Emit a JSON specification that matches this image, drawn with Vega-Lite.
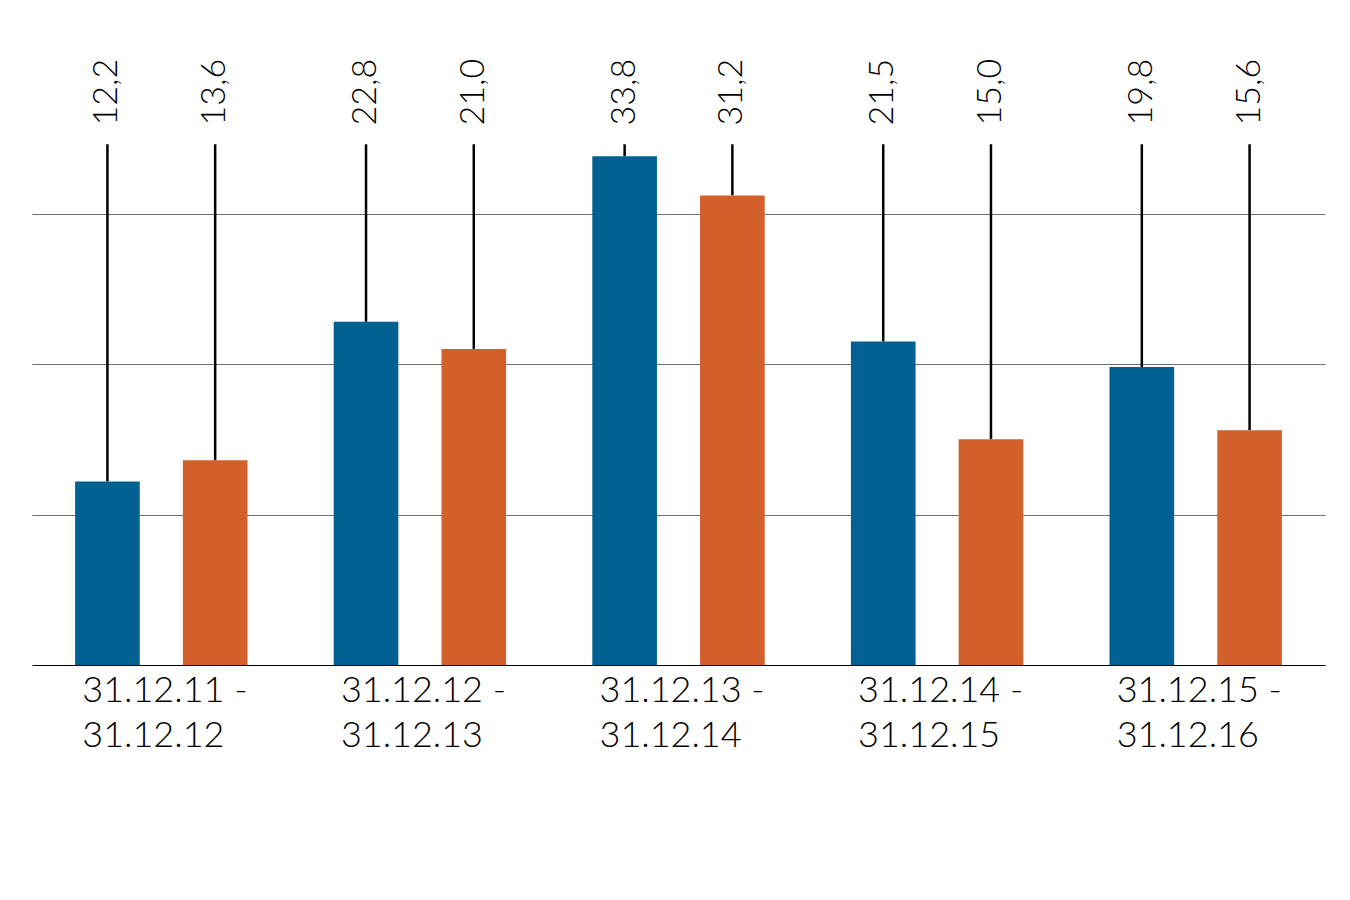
{
  "$schema": "https://vega.github.io/schema/vega-lite/v6.json",
  "width": 1293,
  "height": 602,
  "autosize": {"type": "none"},
  "padding": {"left": 32, "top": 63, "right": 25, "bottom": 235},
  "background": "white",
  "config": {
    "view": {"stroke": null},
    "locale": {"number": {"decimal": ",", "thousands": ".", "grouping": [3], "currency": ["", " €"]}},
    "font": "Lato"
  },
  "data": {
    "values": [
      {"period": "31.12.11 -|31.12.12", "series": "A", "value": 12.2},
      {"period": "31.12.11 -|31.12.12", "series": "B", "value": 13.6},
      {"period": "31.12.12 -|31.12.13", "series": "A", "value": 22.8},
      {"period": "31.12.12 -|31.12.13", "series": "B", "value": 21.0},
      {"period": "31.12.13 -|31.12.14", "series": "A", "value": 33.8},
      {"period": "31.12.13 -|31.12.14", "series": "B", "value": 31.2},
      {"period": "31.12.14 -|31.12.15", "series": "A", "value": 21.5},
      {"period": "31.12.14 -|31.12.15", "series": "B", "value": 15.0},
      {"period": "31.12.15 -|31.12.16", "series": "A", "value": 19.8},
      {"period": "31.12.15 -|31.12.16", "series": "B", "value": 15.6}
    ]
  },
  "encoding": {
    "x": {
      "field": "period", "type": "nominal", "sort": null,
      "scale": {"paddingInner": 0, "paddingOuter": 0},
      "axis": {
        "title": null, "labelAngle": 0, "ticks": false,
        "domainColor": "#000000", "domainWidth": 1.2,
        "labelExpr": "split(datum.label, '|')",
        "labelFont": "Lato", "labelFontWeight": 300, "labelFontSize": 36, "labelColor": "#000000",
        "labelAlign": "left", "labelOffset": -79, "labelBaseline": "top", "labelPadding": 8,
        "labelLineHeight": 45
      }
    },
    "xOffset": {"field": "series", "type": "nominal", "scale": {"paddingInner": 0.4, "paddingOuter": 0.4}}
  },
  "layer": [
    {
      "mark": {"type": "rule", "color": "#000000", "strokeWidth": 2.5},
      "encoding": {
        "y": {"field": "value", "type": "quantitative", "scale": {"domain": [0, 40], "nice": false},
          "axis": {"title": null, "values": [10, 20, 30], "grid": true, "gridColor": "#707070", "gridWidth": 1, "domain": false, "ticks": false, "labels": false}},
        "y2": {"datum": 34.6}
      }
    },
    {
      "mark": {"type": "bar"},
      "encoding": {
        "y": {"field": "value", "type": "quantitative"},
        "color": {"field": "series", "type": "nominal", "legend": null,
          "scale": {"domain": ["A", "B"], "range": ["#006192", "#D3602A"]}}
      }
    },
    {
      "mark": {"type": "text", "angle": -90, "align": "left", "baseline": "middle", "fontSize": 34, "fontWeight": 300, "font": "Lato", "color": "#000000"},
      "encoding": {
        "y": {"datum": 35.85},
        "text": {"field": "value", "type": "quantitative", "format": ".1f"}
      }
    }
  ]
}
